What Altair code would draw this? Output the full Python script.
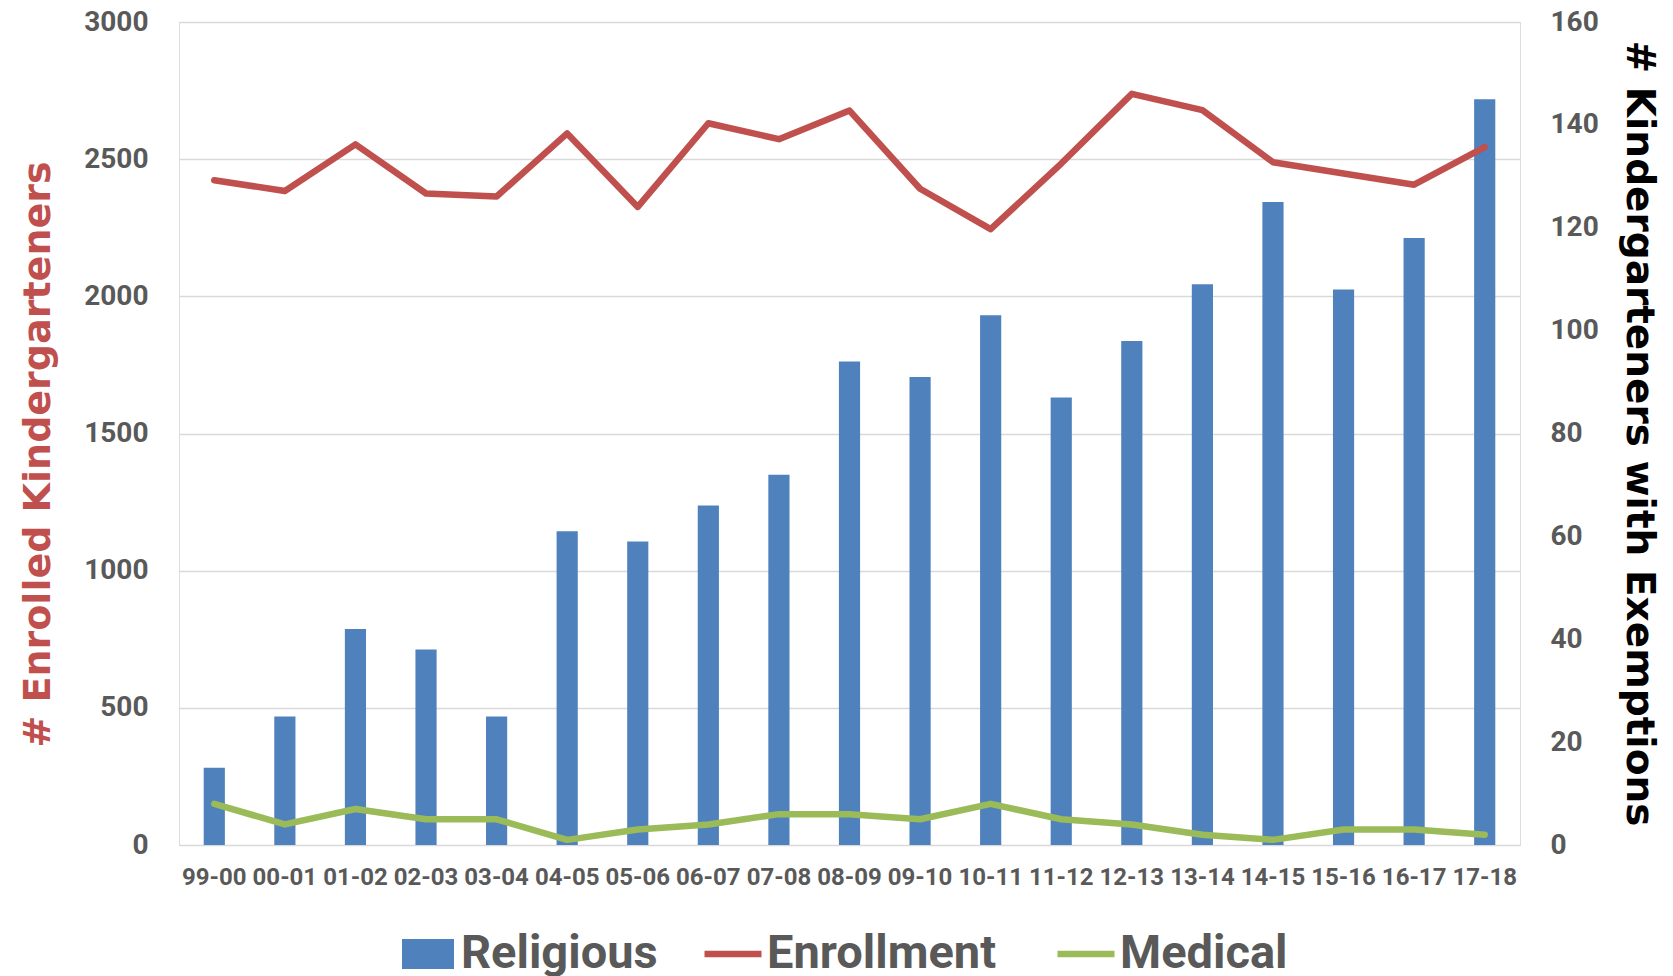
import altair as alt
import pandas as pd

seasons = ["99-00", "00-01", "01-02", "02-03", "03-04", "04-05", "05-06", "06-07",
           "07-08", "08-09", "09-10", "10-11", "11-12", "12-13", "13-14", "14-15",
           "15-16", "16-17", "17-18"]
religious = [15, 25, 42, 38, 25, 61, 59, 66, 72, 94, 91, 103, 87, 98, 109, 125, 108, 118, 145]
enrollment = [2423, 2384, 2554, 2375, 2364, 2594, 2326, 2631, 2573, 2677, 2392, 2245,
              2484, 2738, 2679, 2489, 2448, 2407, 2544]
medical = [8, 4, 7, 5, 5, 1, 3, 4, 6, 6, 5, 8, 5, 4, 2, 1, 3, 3, 2]

df = pd.DataFrame({
    "season": seasons,
    "religious": religious,
    "enrollment": enrollment,
    "medical": medical,
})

LABEL_FONT = "Roboto"
GRAY = "#595959"
BLUE = "#4F81BD"
RED = "#C0504D"
GREEN = "#9BBB59"

x_enc = alt.X(
    "season:N",
    sort=seasons,
    title=None,
    scale=alt.Scale(paddingInner=0.7, paddingOuter=0.35),
    axis=alt.Axis(
        labelAngle=0, labelFont=LABEL_FONT, labelFontSize=24, labelFontWeight="bold",
        labelColor=GRAY, ticks=False, domain=False, labelPadding=20, grid=False,
    ),
)

right_axis = alt.Axis(
    orient="right", values=list(range(0, 161, 20)), format="d",
    grid=False, ticks=False, domain=False,
    labelFont=LABEL_FONT, labelFontSize=28, labelFontWeight="bold", labelColor=GRAY,
    labelPadding=30,
    title="# Kindergarteners with Exemptions", titleFont="DejaVu Sans",
    titleFontWeight="bold", titleFontSize=39, titleColor="black",
    titleAngle=90, titleAlign="center", titleBaseline="middle",
    titleX=118, titleY=411,
)

left_axis = alt.Axis(
    orient="left", values=list(range(0, 3001, 500)), format="d",
    grid=True, gridColor="#D9D9D9", gridWidth=1.5, ticks=False, domain=False,
    labelFont=LABEL_FONT, labelFontSize=28, labelFontWeight="bold", labelColor=GRAY,
    labelPadding=31,
    title="# Enrolled Kindergarteners", titleFont="DejaVu Sans",
    titleFontWeight="bold", titleFontSize=38, titleColor=RED,
    titleAngle=270, titleAlign="center", titleBaseline="middle",
    titleX=-141, titleY=432,
)

right_scale = alt.Scale(domain=[0, 160], nice=False, zero=True)

fill_scale = alt.Scale(domain=["Religious"], range=[BLUE])
stroke_scale = alt.Scale(domain=["Enrollment", "Medical"], range=[RED, GREEN])

legend_common = dict(
    orient="none", direction="horizontal", title=None, padding=0,
    labelFont=LABEL_FONT, labelFontSize=47, labelFontWeight="bold", labelColor=GRAY,
    labelLimit=400,
)

bars = alt.Chart(df).transform_calculate(kind="'Religious'").mark_bar().encode(
    x=x_enc,
    y=alt.Y("religious:Q", scale=right_scale, axis=right_axis),
    fill=alt.Fill(
        "kind:N", scale=fill_scale,
        legend=alt.Legend(
            symbolType="M-1,-0.58L1,-0.58L1,0.58L-1,0.58Z", symbolSize=2704,
            symbolStrokeWidth=0, legendX=223, legendY=906, labelOffset=7,
            **legend_common,
        ),
    ),
)

med_line = alt.Chart(df).transform_calculate(series="'Medical'").mark_line(
    strokeWidth=6.5, strokeCap="round", strokeJoin="round"
).encode(
    x=x_enc,
    y=alt.Y("medical:Q", scale=right_scale, axis=right_axis),
    stroke=alt.Stroke(
        "series:N", scale=stroke_scale,
        legend=alt.Legend(
            symbolType="stroke", symbolSize=3249, symbolStrokeWidth=6.5,
            columnPadding=47, legendX=522, legendY=900, labelOffset=2,
            **legend_common,
        ),
    ),
)

enroll_line = alt.Chart(df).transform_calculate(series="'Enrollment'").mark_line(
    strokeWidth=6.5, strokeCap="round", strokeJoin="round"
).encode(
    x=x_enc,
    y=alt.Y("enrollment:Q", scale=alt.Scale(domain=[0, 3000], nice=False), axis=left_axis),
    stroke=alt.Stroke("series:N", scale=stroke_scale),
)

chart = alt.layer(
    alt.layer(bars, med_line),
    enroll_line,
).resolve_scale(y="independent").properties(
    width=1341,
    height=823,
    autosize=alt.AutoSizeParams(type="none"),
    padding={"left": 171, "top": 14, "right": 145, "bottom": 150},
).configure_view(stroke=None).configure(background="white")

chart.save("out.html", embed_options={"renderer": "svg", "actions": False})
